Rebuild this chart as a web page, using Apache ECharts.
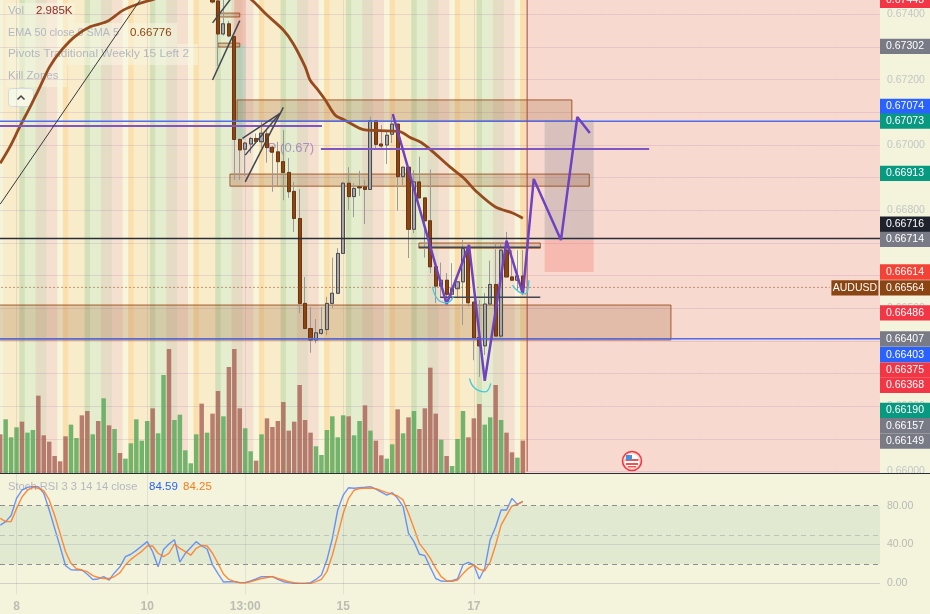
<!DOCTYPE html>
<html>
<head>
<meta charset="utf-8">
<title>AUDUSD</title>
<style>
  html, body { margin: 0; padding: 0; background: #f4f4dc; overflow: hidden; }
  #main { width: 930px; height: 614px; }
</style>
<script src="https://cdn.jsdelivr.net/npm/echarts@6/dist/echarts.min.js"></script>
</head>
<body>
<div id="main"></div>
<script>
// bars: index 0 is the first bar at the left edge, candles above the pane are not readable
const firstBarEdge = -0.04
const lastBarEdge = 161.6
const lastBar = 96
const candleStart = 39
const tickBars = [3, 27, 45, 63, 87]
const tickLabels = ['8', '10', '13:00', '15', '17']

const opens = [0.67460, 0.67441, 0.67340, 0.67371, 0.67332, 0.67017, 0.66987, 0.67003, 0.67020, 0.67010,
  0.67034, 0.66993, 0.66979, 0.66949, 0.66916, 0.66858, 0.66775, 0.66515, 0.66438, 0.66403,
  0.66423, 0.66435, 0.66515, 0.66546, 0.66668, 0.66883, 0.66842, 0.66872, 0.66872, 0.66864,
  0.67074, 0.67003, 0.67000, 0.67033, 0.67064, 0.66903, 0.66932, 0.66742, 0.66887, 0.66838,
  0.66768, 0.66627, 0.66568, 0.66586, 0.66543, 0.66560, 0.66581, 0.66683, 0.66519, 0.66411,
  0.66385, 0.66513, 0.66573, 0.66415, 0.66678, 0.66596, 0.66586, 0.66599]
const closes = [0.67438, 0.67340, 0.67371, 0.67334, 0.67017, 0.66985, 0.67006, 0.67020, 0.67011, 0.67036,
  0.66992, 0.66978, 0.66949, 0.66916, 0.66857, 0.66775, 0.66515, 0.66438, 0.66403, 0.66425,
  0.66435, 0.66515, 0.66546, 0.66668, 0.66883, 0.66842, 0.66867, 0.66869, 0.66864, 0.67074,
  0.67002, 0.66997, 0.67030, 0.67064, 0.66903, 0.66932, 0.66742, 0.66887, 0.66838, 0.66768,
  0.66627, 0.66568, 0.66586, 0.66543, 0.66560, 0.66581, 0.66683, 0.66517, 0.66409, 0.66385,
  0.66513, 0.66573, 0.66415, 0.66678, 0.66596, 0.66586, 0.66599, 0.66564]
const lows = [0.67433, 0.67242, 0.67335, 0.67330, 0.66893, 0.66893, 0.66905, 0.66975, 0.67005, 0.66991,
  0.66946, 0.66857, 0.66874, 0.66831, 0.66838, 0.66734, 0.66485, 0.66438, 0.66364, 0.66393,
  0.66418, 0.66418, 0.66501, 0.66546, 0.66668, 0.66801, 0.66779, 0.66844, 0.66758, 0.66864,
  0.66991, 0.66991, 0.66942, 0.67006, 0.66799, 0.66877, 0.66654, 0.66730, 0.66838, 0.66655,
  0.66608, 0.66516, 0.66535, 0.66516, 0.66525, 0.66531, 0.66449, 0.66505, 0.66341, 0.66290,
  0.66357, 0.66513, 0.66415, 0.66403, 0.66596, 0.66586, 0.66556, 0.66540]
const highs = [0.67470, 0.67450, 0.67444, 0.67380, 0.67335, 0.67020, 0.67010, 0.67025, 0.67035, 0.67071,
  0.67046, 0.66998, 0.67010, 0.67046, 0.66960, 0.66887, 0.66865, 0.66596, 0.66504, 0.66467,
  0.66504, 0.66535, 0.66655, 0.66684, 0.66887, 0.66932, 0.66883, 0.66921, 0.66893, 0.67087,
  0.67074, 0.67061, 0.67046, 0.67087, 0.67064, 0.66932, 0.66932, 0.66923, 0.66964, 0.66838,
  0.66925, 0.66627, 0.66640, 0.66608, 0.66638, 0.66581, 0.66709, 0.66694, 0.66519, 0.66525,
  0.66547, 0.66646, 0.66700, 0.66700, 0.66734, 0.66678, 0.66678, 0.66678]

const volumes = [3564, 4935, 3290, 4203, 4721, 3716, 3960, 7097, 3472, 2894, 1584, 1097, 3381, 4447, 3229, 5300,
  5696, 3564, 4782, 6854, 4386, 4051, 1858, 1340, 2741, 4935, 2985, 4782, 5940, 3655, 8986, 11362,
  4874, 5361, 2102, 914, 3564, 6366, 3716, 5452, 7524, 5209, 9717, 11362, 5940, 4112, 2010, 1157,
  3564, 5026, 4234, 4782, 6518, 3899, 4721, 8072, 4874, 3716, 2467, 1675, 3960, 5209, 3290, 5300,
  5209, 3472, 4782, 6214, 3899, 2985, 1645, 1340, 2650, 5848, 3655, 5117, 5696, 4051, 5940, 9656,
  5452, 3076, 1584, 670, 3137, 5696, 3290, 5026, 6336, 4447, 5117, 8072, 4874, 3716, 1919, 1432, 2985]
const volumeUp = [0, 1, 1, 1, 0, 1, 1, 0, 0, 0, 0, 0, 0, 1, 1, 0, 0, 1, 0, 1, 0, 1, 0, 1, 1, 1, 1, 1, 0, 1, 1, 0,
  1, 1, 1, 1, 1, 0, 1, 0, 0, 1, 0, 0, 0, 1, 1, 0, 1, 0, 0, 0, 0, 0, 0, 0, 0, 0, 1, 1, 1, 1, 1, 1,
  0, 1, 1, 0, 1, 0, 0, 1, 1, 0, 1, 0, 1, 0, 0, 0, 0, 1, 0, 1, 1, 1, 0, 0, 0, 1, 1, 0, 1, 0, 0, 1, 0]

const stochK = [60, 63.6, 70, 87.6, 96, 99, 99.7, 99.7, 92.8, 75.6, 56.7, 37.8, 18.2, 14, 13.7, 13.7, 9.3, 4, 4.5, 6.9,
  3.4, 11, 17, 27.5, 30, 34, 38.5, 43, 32.6, 17, 35, 40.5, 45, 22, 31, 37, 43, 38.5, 35.4, 19,
  10, 1.4, 1.7, 1.7, 0.7, 0.7, 2.4, 4.5, 6.9, 6.9, 6.9, 4, 1.7, 0.7, 0, 0, 0, 0.7, 4, 8.6,
  24, 46, 75.6, 91, 98.6, 98, 98.6, 99, 99.7, 97, 94, 91, 93.5, 87.6, 79, 51.5, 43, 30, 28.5, 16.5,
  5, 2.4, 2, 2.7, 4.5, 19, 21.6, 19, 4.5, 15.5, 45, 58, 75.6, 75.6, 87.6, 81.4, 84.59]
const stochD = [67, 63.6, 63.6, 77, 89, 96, 99, 98, 95.5, 86, 70, 51.5, 32.6, 20.6, 15, 13.7, 12, 8, 6, 5,
  5, 7, 11, 19, 24.7, 29, 33, 38.5, 38.5, 31, 27.5, 31, 40.5, 36, 32.6, 29, 36, 39, 38.5, 31,
  20.6, 9.6, 4, 2, 0.7, 0.7, 1.7, 3.4, 5, 6, 7, 5, 3.4, 1.7, 0.7, 0, 0, 0, 1.7, 4,
  12, 29, 50, 72, 87.6, 96, 97.6, 98, 98.3, 97.6, 95.5, 93.5, 92, 90, 86, 72, 56.7, 41, 34, 25.8,
  15.5, 6.9, 2.7, 2, 3.4, 10, 15.5, 19, 14.4, 13, 22, 39.5, 60, 70, 79.7, 81.4, 84.25]

// [bar, price] pairs
const emaLine = [[0, 0.66944], [1.8, 0.66995], [3.6, 0.67056], [5.5, 0.67117], [7.3, 0.67178], [9.1, 0.67240],
  [11.3, 0.67291], [13.7, 0.67332], [16.5, 0.67362], [19.6, 0.67378], [22.6, 0.67413], [25.7, 0.67434],
  [28.8, 0.67450], [34.9, 0.67505], [40.4, 0.67511], [44, 0.67468], [46.2, 0.67444], [49, 0.67398],
  [52, 0.67352], [53.8, 0.67311], [56, 0.67240], [56.9, 0.67199], [58.1, 0.67174], [59.7, 0.67138],
  [61.5, 0.67092], [63.3, 0.67076], [67, 0.67046], [69.8, 0.67044], [73.4, 0.67041], [75.3, 0.67023],
  [77.4, 0.67007], [79.5, 0.66979], [82.6, 0.66933], [85, 0.66901], [87.5, 0.66857], [90.9, 0.66811],
  [94.2, 0.66791], [96, 0.66776]]
const wavePath = [[72.1, 0.67095], [82, 0.66513], [86.1, 0.66694], [89, 0.66278], [93, 0.66707], [96, 0.66544],
  [98, 0.66896], [103, 0.66709], [106, 0.67086], [108.3, 0.67037]]
const longTrend = [[0, 0.66819], [25.7, 0.67444]]
const trendA = [[39, 0.67199], [44, 0.67381]]
const trendB = [[39, 0.67374], [42.6, 0.67453]]
const trendC = [[44.5, 0.67020], [51.4, 0.67097]]
const trendD = [[45, 0.66887], [52, 0.67115]]
const trendE = [[45, 0.66969], [51.4, 0.67097]]
const arcOne = [[79.4, 0.66566], [80.5, 0.66525], [82, 0.66517], [83.2, 0.66535]]
const arcTwo = [[86.2, 0.66285], [87.2, 0.66255], [89.05, 0.66244], [90.1, 0.66270]]
const arcThree = [[94.1, 0.66571], [95.2, 0.66551], [96.4, 0.66544], [97.1, 0.66586]]
const pivotOld = [[-0.5, 0.67058], [59.1, 0.67058]]
const pivotNow = [[58.9, 0.66988], [119.2, 0.66988]]
const pivotLabelAt = [[53.4, 0.66991]]
const blueUpper = [[-0.5, 0.67073], [161.6, 0.67073]]
const blueLower = [[-0.5, 0.66407], [161.6, 0.66407]]
const blackLevel = [[-0.5, 0.66714], [161.6, 0.66714]]
const neckUpper = [[76.9, 0.66687], [99.2, 0.66687]]
const neckLower = [[80.8, 0.66534], [99.2, 0.66534]]
const lastPriceLine = [[-0.5, 0.66564], [152.4, 0.66564]]
const nowLine = [[96.8, 0.67444], [96.8, 0.66]]

// rectangles: bar from, bar to, price top, price bottom
const zoneRows = [[43.5, 105, 0.67138, 0.67073], [42.2, 108.2, 0.66911, 0.66874], [76.9, 99.2, 0.66700, 0.66684],
  [-0.5, 123.2, 0.66510, 0.66403], [40, 44, 0.67404, 0.67392], [40, 44, 0.67312, 0.67300]]
const lossRows = [[43, 45, 0.67444, 0.67306], [100, 109, 0.66709, 0.66611]]
const gainRows = [[43, 45, 0.67306, 0.67015]]
const rangeRows = [[100, 109, 0.67076, 0.66709]]

// price tags on the right axis
const tagValues = [0.67443, 0.67302, 0.67074, 0.67073, 0.66913, 0.66716, 0.66714, 0.66614, 0.66564, 0.66486,
  0.66407, 0.66403, 0.66375, 0.66368, 0.66190, 0.66157, 0.66149]
const tagColors = ['#f23645', '#787b86', '#2962ff', '#089981', '#089981', '#1e222d', '#787b86', '#f44336', '#8b4513', '#f23645',
  '#787b86', '#2962ff', '#f23645', '#f23645', '#089981', '#787b86', '#787b86']
// the tags push each other apart, px
const tagShifts = [0, 0, -14.5, 0, 0, -13.5, 1, 1, 0.5, 0, 0.3, 14.7, 21, 34, 1, 5.5, 18.2]

// kill zone colours, repeats every 12 bars
const sessionCycle = ['#fbe0ae', '#f8ecca', '#f8ecca', '#f8ecca', '#d3e0b8', '#e4eecf', '#e4eecf',
  '#e4dcc4', '#e4dcc4', '#f5e0d0', '#f5e0d0', '#f8f5dd']
const futureColor = '#f8d9cf'

const font = 'Liberation Sans'
const sessionBars = Array.from({ length: 161 }, (_, i) => [i + 1])
const barRows = (values) => values.map((v, i) => [i, v])

function lineOn(points, color, width, extra) {
  return Object.assign({
    type: 'line', xAxisIndex: 0, yAxisIndex: 0, data: points, showSymbol: false, silent: true,
    lineStyle: { color: color, width: width }, z: 6, animation: false
  }, extra || {})
}

function rectSeries(rows, fill, stroke, z) {
  return {
    type: 'custom', xAxisIndex: 0, yAxisIndex: 0, data: rows, z: z, silent: true, animation: false,
    encode: { x: [0, 1], y: [2, 3] },
    renderItem: function (params, api) {
      const a = api.coord([api.value(0), api.value(2)])
      const b = api.coord([api.value(1), api.value(3)])
      return {
        type: 'rect',
        shape: { x: a[0], y: a[1], width: b[0] - a[0], height: b[1] - a[1] },
        style: { fill: fill, stroke: stroke, lineWidth: stroke ? 1 : 0 }
      }
    }
  }
}

function tagShape(x, y, width, text, color) {
  return {
    type: 'group', children: [
      { type: 'rect', shape: { x: x, y: y - 7.7, width: width, height: 15.4 }, style: { fill: color } },
      { type: 'text', style: { x: x + width / 2, y: y, text: text, fill: '#fff', font: '10.5px ' + font, textAlign: 'center', textVerticalAlign: 'middle' } }
    ]
  }
}

function legendText(x, y, text, color, size) {
  return { type: 'text', style: { x: x, y: y, text: text, fill: color, font: size + 'px ' + font, textVerticalAlign: 'middle' } }
}

const legendBox = 'rgba(246,246,224,0.55)'
const legendGrey = '#b4b7c2'
const legendGraphic = [
  { type: 'rect', shape: { x: 6, y: 3, width: 69, height: 20 }, style: { fill: legendBox } },
  { type: 'rect', shape: { x: 6, y: 23, width: 171, height: 21 }, style: { fill: legendBox } },
  { type: 'rect', shape: { x: 6, y: 44, width: 192, height: 21 }, style: { fill: legendBox } },
  { type: 'rect', shape: { x: 6, y: 65, width: 61, height: 22 }, style: { fill: legendBox } },
  { type: 'rect', shape: { x: 8.5, y: 88.5, width: 25, height: 18, r: 3 }, style: { fill: '#f7f7e6', stroke: '#d6d8e4' } },
  { type: 'polyline', shape: { points: [[17.5, 99.5], [21, 96], [24.5, 99.5]] }, style: { stroke: '#444', lineWidth: 1.5, fill: null } },
  legendText(8, 11, 'Vol', legendGrey, 11.5),
  legendText(36, 11, '2.985K', '#8e2a2a', 11.5),
  legendText(8, 33, 'EMA 50 close 0 SMA 5', legendGrey, 10.8),
  legendText(130, 33, '0.66776', '#8b4513', 11.5),
  legendText(8, 54, 'Pivots Traditional Weekly 15 Left 2', legendGrey, 11.8),
  legendText(8, 76, 'Kill Zones', legendGrey, 11.5),
  legendText(8, 487, 'Stoch RSI 3 3 14 14 close', legendGrey, 11.2),
  legendText(149, 487, '84.59', '#2962ff', 11.5),
  legendText(183, 487, '84.25', '#f57c1f', 11.5),
  { type: 'line', shape: { x1: 0, y1: 473.5, x2: 930, y2: 473.5 }, style: { stroke: '#2a2e39', lineWidth: 1 }, z: 50 },
  // earnings flag
  { type: 'circle', shape: { cx: 632, cy: 461, r: 9.5 }, style: { fill: 'none', stroke: '#f23645', lineWidth: 1.6 }, z: 50 },
  { type: 'circle', shape: { cx: 632, cy: 461, r: 7 }, style: { fill: '#fff' }, z: 50 },
  { type: 'rect', shape: { x: 625.5, y: 459, width: 13, height: 2 }, style: { fill: '#ef5350' }, z: 51 },
  { type: 'rect', shape: { x: 626, y: 463, width: 12, height: 2 }, style: { fill: '#ef5350' }, z: 51 },
  { type: 'rect', shape: { x: 628, y: 466, width: 8, height: 1.5 }, style: { fill: '#ef5350' }, z: 51 },
  { type: 'rect', shape: { x: 626, y: 455, width: 6, height: 5 }, style: { fill: '#4a90d9' }, z: 52 }
]

const chart = echarts.init(document.getElementById('main'), null, { renderer: 'canvas' })

const barAxis = { type: 'value', min: firstBarEdge, max: lastBarEdge, splitLine: { show: false } }

const option = {
  animation: false,
  backgroundColor: '#f4f4dc',
  textStyle: { fontFamily: font },
  graphic: { elements: legendGraphic },
  grid: [
    { left: 0, width: 880, top: 0, height: 471.6 },
    { left: 0, width: 880, top: 0, height: 473.3 },
    { left: 0, width: 880, top: 474, height: 120.5 }
  ],
  xAxis: [
    Object.assign({ gridIndex: 0, show: false }, barAxis),
    Object.assign({ gridIndex: 1, show: false }, barAxis),
    Object.assign({
      gridIndex: 2,
      axisLine: { show: false }, axisTick: { show: false },
      axisLabel: {
        customValues: tickBars,
        formatter: (v) => tickLabels[tickBars.indexOf(Number(v))],
        color: '#bcbcb4', fontSize: 12, fontWeight: 'bold', margin: 6, fontFamily: font
      }
    }, barAxis)
  ],
  yAxis: [
    {
      type: 'value', gridIndex: 0, position: 'right', min: 0.66, max: 0.67444, interval: 0.001,
      axisLine: { show: false }, axisTick: { show: false },
      axisLabel: { showMaxLabel: false, margin: 7, color: '#c4c6c4', fontSize: 10.5, formatter: (v) => v.toFixed(5) },
      splitLine: { showMaxLine: false, lineStyle: { color: 'rgba(150,90,170,0.16)', width: 1 } }
    },
    { type: 'value', gridIndex: 1, min: 0, max: 43260, show: false, splitLine: { show: false } },
    {
      type: 'value', gridIndex: 2, position: 'right', min: -11.5, max: 112.7,
      axisLine: { show: false }, axisTick: { show: false }, splitLine: { show: false },
      axisLabel: { customValues: [0, 40, 80], margin: 7, color: '#b8bab4', fontSize: 10.5, formatter: (v) => v.toFixed(2) }
    }
  ],
  series: [
    // kill zone stripes and the empty future part
    {
      type: 'custom', xAxisIndex: 1, yAxisIndex: 1, z: -1, silent: true, animation: false,
      data: sessionBars,
      encode: { x: 0 },
      renderItem: function (params, api) {
        const k = api.value(0)
        const p = api.coord([k, 0])
        const w = api.size([1, 0])[0]
        const rect = params.coordSys
        const right = Math.min(p[0] + w / 2 + 0.5, rect.x + rect.width)
        return {
          type: 'rect',
          shape: { x: p[0] - w / 2, y: rect.y, width: right - p[0] + w / 2, height: rect.height },
          style: { fill: k > lastBar ? futureColor : sessionCycle[k % 12] }
        }
      }
    },
    {
      type: 'bar', name: 'Vol', xAxisIndex: 1, yAxisIndex: 1, barWidth: 4.5, z: 1, silent: true,
      data: volumes.map((v, i) => ({
        value: [i, v],
        itemStyle: { color: volumeUp[i] ? 'rgba(92,170,92,0.85)' : 'rgba(170,100,88,0.82)' }
      })),
      markLine: {
        silent: true, symbol: 'none', label: { show: false }, animation: false,
        lineStyle: { color: 'rgba(120,120,150,0.15)', width: 1, type: 'solid' },
        data: tickBars.map((b) => ({ xAxis: b }))
      }
    },
    rectSeries(rangeRows, 'rgba(120,123,134,0.25)', null, 2),
    rectSeries(lossRows, 'rgba(244,67,54,0.2)', null, 2),
    rectSeries(gainRows, 'rgba(8,153,129,0.2)', null, 2),
    rectSeries(zoneRows, 'rgba(139,69,19,0.2)', 'rgba(150,70,25,0.85)', 2),
    lineOn(blueUpper, '#4f6df0', 1.5),
    lineOn(blueLower, '#4f6df0', 1.5),
    lineOn(blackLevel, '#2a2e39', 1.5),
    lineOn(pivotOld, '#7e57c2', 2),
    lineOn(pivotNow, '#7e57c2', 2),
    lineOn(lastPriceLine, '#8b4513', 1, { lineStyle: { color: '#8b4513', width: 1, type: [1, 3] } }),
    lineOn(nowLine, 'rgba(160,70,60,0.65)', 1.5),
    lineOn(longTrend, '#3a3a3a', 1),
    lineOn(trendA, '#434651', 1.5),
    lineOn(trendB, '#434651', 1.5),
    lineOn(trendC, '#434651', 1.5),
    lineOn(trendD, '#434651', 1.5),
    lineOn(trendE, '#434651', 1.5),
    lineOn(neckUpper, '#434651', 1.5),
    lineOn(neckLower, '#434651', 1.5),
    lineOn(emaLine, '#964b1e', 2.8, { smooth: 0.3, z: 5 }),
    // wicks and bodies are two candlestick layers, TV draws them in different colours
    {
      type: 'candlestick', xAxisIndex: 0, yAxisIndex: 0, barWidth: 3.6, z: 4, silent: true,
      encode: { x: 0, y: [1, 2, 3, 4] },
      itemStyle: { color: '#9a9a9a', color0: '#9a9a9a', borderColor: '#9a9a9a', borderColor0: '#9a9a9a', borderWidth: 1 },
      data: opens.map((o, i) => [i + candleStart, o, closes[i], lows[i], highs[i]])
    },
    {
      type: 'candlestick', xAxisIndex: 0, yAxisIndex: 0, barWidth: 3.6, z: 4, silent: true,
      encode: { x: 0, y: [1, 2, 3, 4] },
      itemStyle: { color: '#a8a8a8', color0: '#8b4513', borderColor: '#4a4a50', borderColor0: '#6e3610', borderWidth: 1 },
      data: opens.map((o, i) => [i + candleStart, o, closes[i], Math.min(o, closes[i]), Math.max(o, closes[i])])
    },
    lineOn(wavePath, '#6f42c1', 2.5, { z: 7 }),
    lineOn(arcOne, '#45c8dc', 1.3, { smooth: 0.5, z: 7 }),
    lineOn(arcTwo, '#45c8dc', 1.3, { smooth: 0.5, z: 7 }),
    lineOn(arcThree, '#45c8dc', 1.3, { smooth: 0.5, z: 7 }),
    {
      type: 'scatter', xAxisIndex: 0, yAxisIndex: 0, data: pivotLabelAt, symbolSize: 0, silent: true, z: 3,
      label: { show: true, position: 'inside', formatter: 'P (0.67)', color: 'rgba(103,58,183,0.6)', fontSize: 13, fontFamily: font }
    },
    // axis tags
    {
      type: 'custom', xAxisIndex: 0, yAxisIndex: 0, z: 20, silent: true, animation: false,
      data: tagValues.map((p, i) => [lastBarEdge, p, i]),
      encode: { x: 0, y: 1 },
      renderItem: function (params, api) {
        const i = api.value(2)
        const c = api.coord([lastBarEdge, api.value(1)])
        return tagShape(c[0], c[1] + tagShifts[i], 50, tagValues[i].toFixed(5), tagColors[i])
      }
    },
    {
      type: 'custom', xAxisIndex: 0, yAxisIndex: 0, z: 20, silent: true, animation: false,
      data: [lastPriceLine[1]],
      encode: { x: 0, y: 1 },
      renderItem: function (params, api) {
        const c = api.coord([api.value(0), api.value(1)])
        return tagShape(c[0] + 1.5, c[1] + 0.5, 47, 'AUDUSD', '#8b4513')
      }
    },
    // stoch rsi pane
    {
      type: 'line', name: 'K', xAxisIndex: 2, yAxisIndex: 2, data: barRows(stochK), showSymbol: false, silent: true,
      lineStyle: { color: 'rgba(41,98,255,0.65)', width: 1.4 }, z: 3,
      markArea: {
        silent: true, animation: false, itemStyle: { color: 'rgba(33,120,90,0.09)' },
        data: [[{ yAxis: 80 }, { yAxis: 20 }]]
      },
      markLine: {
        silent: true, symbol: 'none', label: { show: false }, animation: false,
        data: [
          { yAxis: 80, lineStyle: { color: '#8f8f92', type: [5, 4], width: 1.2 } },
          { yAxis: 50, lineStyle: { color: '#c0c0bc', type: [5, 4], width: 1.2 } },
          { yAxis: 20, lineStyle: { color: '#8f8f92', type: [5, 4], width: 1.2 } },
          { yAxis: 40, lineStyle: { color: 'rgba(120,130,170,0.22)', type: 'solid', width: 1 } },
          { yAxis: 0, lineStyle: { color: 'rgba(120,120,150,0.28)', type: 'solid', width: 1 } }
        ].concat(tickBars.map((b) => ({ xAxis: b, lineStyle: { color: 'rgba(120,120,150,0.15)', type: 'solid', width: 1 } })))
      }
    },
    {
      type: 'line', name: 'D', xAxisIndex: 2, yAxisIndex: 2, data: barRows(stochD), showSymbol: false, silent: true,
      lineStyle: { color: 'rgba(255,120,30,0.85)', width: 1.4 }, z: 4
    }
  ]
}

chart.setOption(option)
</script>
</body>
</html>
